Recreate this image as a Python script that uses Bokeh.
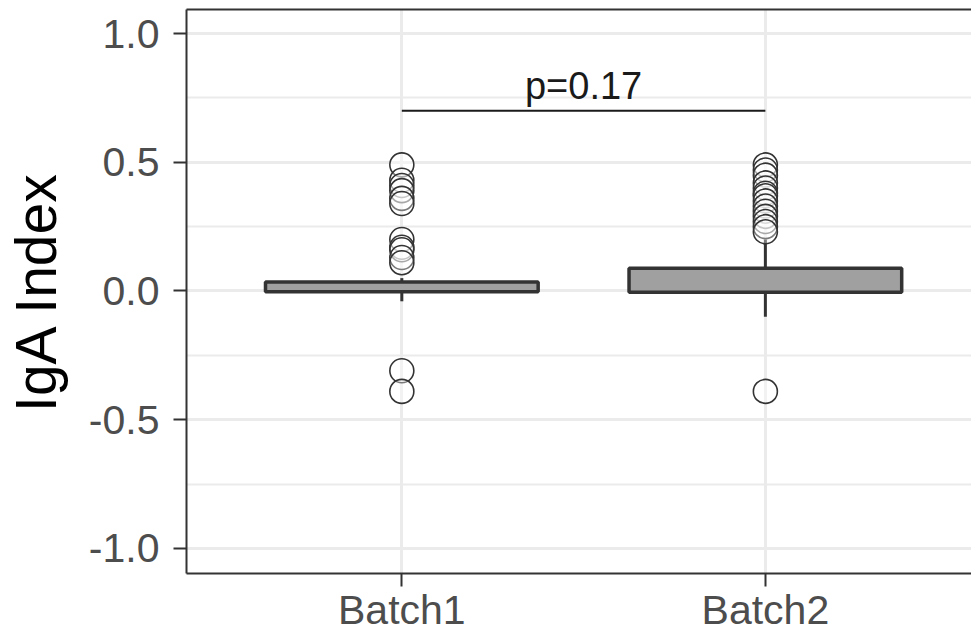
from bokeh.plotting import figure
from bokeh.models import LinearAxis, FixedTicker, ColumnDataSource, Range1d
from bokeh.core.properties import value
from bokeh.embed import file_html
from bokeh.resources import INLINE

# IgA index by batch: box statistics and outliers
batches = ["Batch1", "Batch2"]
positions = [1, 2]
q1 = [-0.003, -0.005]
median = [0.0, 0.0]
q3 = [0.035, 0.088]
whisker_low = [-0.04, -0.10]
whisker_high = [0.05, 0.20]

batch1_outliers = [0.49, 0.43, 0.41, 0.39, 0.36, 0.34, 0.20, 0.17, 0.16, 0.13, 0.11, -0.31, -0.39]
batch2_outliers = [0.49, 0.47, 0.45, 0.42, 0.40, 0.38, 0.37, 0.35, 0.33, 0.31,
                   0.29, 0.27, 0.25, 0.23, -0.39]

# significance bracket between the two batches
bracket_x = [1, 2]
bracket_y = 0.7
p_label = "p=0.17"

FONT = "Liberation Sans"
BORDER = "#333333"
GRID = "#EBEBEB"

p = figure(width=971, height=635, output_backend="svg", toolbar_location=None,
           x_range=Range1d(0.4077, 2.567), y_range=Range1d(-1.0975, 1.0936),
           min_border_left=0, min_border_right=0, min_border_top=9, min_border_bottom=0)
p.outline_line_color = None
p.background_fill_color = "white"
p.border_fill_color = "white"

# grid
p.xgrid.ticker = FixedTicker(ticks=positions)
p.xgrid.grid_line_color = GRID
p.xgrid.grid_line_width = 3
p.ygrid.ticker = FixedTicker(ticks=[-1.0, -0.5, 0.0, 0.5, 1.0],
                             minor_ticks=[-0.75, -0.25, 0.25, 0.75])
p.ygrid.grid_line_color = GRID
p.ygrid.grid_line_width = 3
p.ygrid.minor_grid_line_color = GRID
p.ygrid.minor_grid_line_width = 1.8

# axes
xa = p.xaxis[0]
xa.ticker = FixedTicker(ticks=positions)
xa.major_label_overrides = {pos: name for pos, name in zip(positions, batches)}
ya = p.yaxis[0]
ya.ticker = FixedTicker(ticks=[-1.0, -0.5, 0.0, 0.5, 1.0])
ya.major_label_overrides = {-1.0: "-1.0", -0.5: "-0.5", 0.0: "0.0", 0.5: "0.5", 1.0: "1.0"}
ya.axis_label = "IgA Index"
for ax in (xa, ya):
    ax.axis_line_color = BORDER
    ax.axis_line_width = 2
    ax.major_tick_line_color = BORDER
    ax.major_tick_line_width = 2
    ax.major_tick_out = 13
    ax.major_tick_in = 0
    ax.minor_tick_line_color = None
    ax.major_label_text_font = FONT
    ax.major_label_text_font_size = "41px"
    ax.major_label_text_color = "#4D4D4D"
    ax.major_label_standoff = 14
xa.major_label_standoff = 0
ya.axis_label_text_font = FONT
ya.axis_label_text_font_size = "57px"
ya.axis_label_text_font_style = "normal"
ya.axis_label_text_color = "#000000"
ya.axis_label_standoff = 18

top = LinearAxis(ticker=FixedTicker(ticks=[]), axis_line_color=BORDER, axis_line_width=2,
                 major_tick_out=0, major_tick_in=0, minor_tick_out=0, minor_tick_in=0,
                 major_label_text_font_size="0px", major_label_standoff=0)
p.add_layout(top, "above")

# boxes
box_src = ColumnDataSource(dict(x=positions, q1=q1, med=median, q3=q3,
                                lo=whisker_low, hi=whisker_high))
p.segment(x0="x", y0="q3", x1="x", y1="hi", source=box_src, line_color=BORDER, line_width=3)
p.segment(x0="x", y0="lo", x1="x", y1="q1", source=box_src, line_color=BORDER, line_width=3)
p.vbar(x="x", width=0.75, bottom="q1", top="q3", source=box_src,
       fill_color="#A0A0A0", line_color=BORDER, line_width=3.5)
p.rect(x="x", y="med", width=0.75, height=0, source=box_src,
       line_color=BORDER, line_width=6, fill_color=None)

# outliers
ox = [positions[0]] * len(batch1_outliers) + [positions[1]] * len(batch2_outliers)
oy = batch1_outliers + batch2_outliers
p.scatter(ox, oy, size=24, marker="circle", fill_color="white", fill_alpha=0.35,
          line_color="#333333", line_width=1.6)

# bracket and p-value
p.line(bracket_x, [bracket_y, bracket_y], line_color="#1A1A1A", line_width=2)
p.text(x=[sum(bracket_x) / 2], y=[bracket_y], text=[p_label], text_align="center",
       text_baseline="alphabetic", y_offset=-25, text_font=value(FONT),
       text_font_size="38px", text_color="#1A1A1A")

open("out.html", "w").write(file_html(p, INLINE))
